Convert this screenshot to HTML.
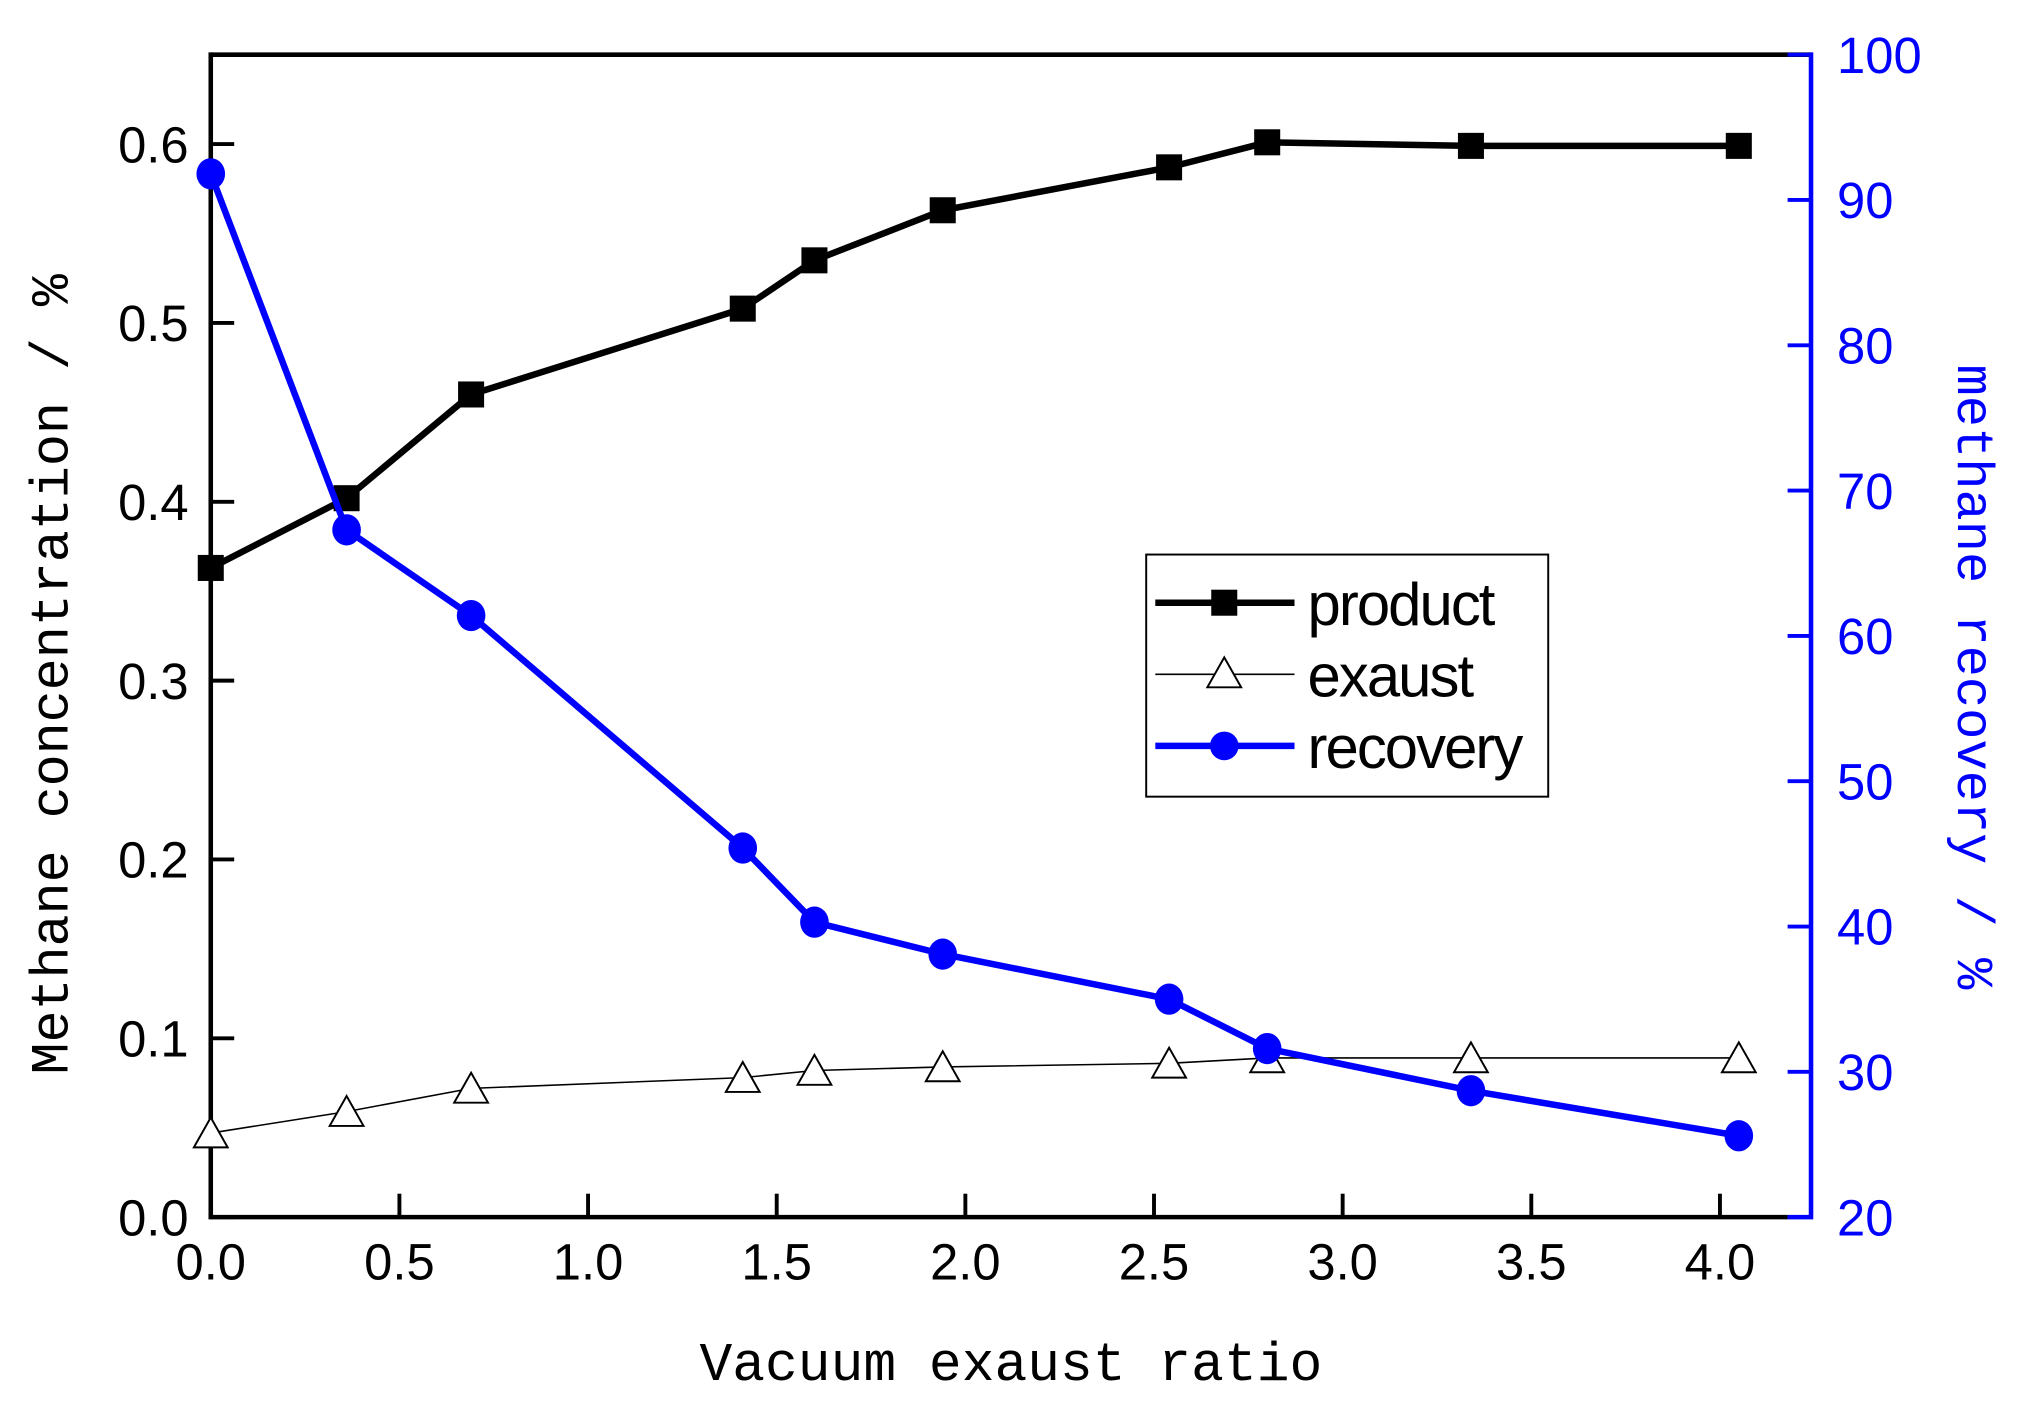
<!DOCTYPE html>
<html><head><meta charset="utf-8"><style>
html,body{margin:0;padding:0;background:#fff;}
svg{display:block;}
</style></head><body>
<svg id="chart" width="2040" height="1415" viewBox="0 0 1568 1087" preserveAspectRatio="none" xmlns="http://www.w3.org/2000/svg">
<g id="axes"></g>
<g id="series"></g>
<text transform="translate(52,518) rotate(-90)" text-anchor="middle" font-family="Liberation Mono, monospace" font-size="41" fill="#000">Methane concentration / %</text>
<text transform="translate(1505,520) rotate(90)" text-anchor="middle" font-family="Liberation Mono, monospace" font-size="40" fill="#0000ff">methane recovery / %</text>
<text x="777" y="1060" text-anchor="middle" font-family="Liberation Mono, monospace" font-size="42" fill="#000">Vacuum exaust ratio</text>
<g>
<rect x="881" y="426" width="309" height="186" fill="#fff" stroke="#000" stroke-width="1.5"/>
<g><line x1="888" y1="463" x2="995" y2="463" stroke="#000" stroke-width="5"/><rect x="931" y="453" width="20" height="20" fill="#000"/><text x="1005" y="480" font-family="Liberation Sans, sans-serif" font-size="46" letter-spacing="-1.5">product</text></g>
<g><line x1="888" y1="518" x2="995" y2="518" stroke="#000" stroke-width="1.2"/><polygon points="941,505 954,528 928,528" fill="#fff" stroke="#000" stroke-width="1.5"/><text x="1005" y="535" font-family="Liberation Sans, sans-serif" font-size="46" letter-spacing="-1.5">exaust</text></g>
<g><line x1="888" y1="573" x2="995" y2="573" stroke="#0000ff" stroke-width="5"/><circle cx="941" cy="573" r="11" fill="#0000ff"/><text x="1005" y="590" font-family="Liberation Sans, sans-serif" font-size="46" letter-spacing="-1.5">recovery</text></g>
</g>
</svg>
<script>
const xValues = [0, 0.36, 0.69, 1.41, 1.6, 1.94, 2.54, 2.8, 3.34, 4.05];
const productValues = [0.363, 0.402, 0.460, 0.508, 0.535, 0.563, 0.587, 0.601, 0.599, 0.599];
const exaustValues = [0.047, 0.059, 0.072, 0.078, 0.082, 0.084, 0.086, 0.089, 0.089, 0.089];
const recoveryValues = [91.8, 67.3, 61.4, 45.4, 40.3, 38.1, 35.0, 31.6, 28.7, 25.6];
const xTicks = ["0.0","0.5","1.0","1.5","2.0","2.5","3.0","3.5","4.0"];
const yTicks = ["0.0","0.1","0.2","0.3","0.4","0.5","0.6"];
const y2Ticks = ["20","30","40","50","60","70","80","90","100"];

const L=162,R=1392,T=42,B=935;
const X0=0,X1=(R-L)/290;
const sx=v=>L+(v-X0)/(X1-X0)*(R-L);
const sy=v=>B-v/0.65*(B-T);
const sy2=v=>B-(v-20)/80*(B-T);
const NS="http://www.w3.org/2000/svg";
function mk(parent,tag,attrs){const e=document.createElementNS(NS,tag);for(const k in attrs)e.setAttribute(k,attrs[k]);parent.appendChild(e);return e;}
const ax=document.getElementById('axes');
let e;
e=mk(ax,'line',{x1:L,y1:T,x2:R,y2:T,stroke:'#000','stroke-width':3.5});


e=mk(ax,'line',{x1:L,y1:T-1.75,x2:L,y2:B+1.75,stroke:'#000','stroke-width':3.5});


e=mk(ax,'line',{x1:L,y1:B,x2:R-18,y2:B,stroke:'#000','stroke-width':3.5});


e=mk(ax,'polyline',{points:`${R-18},${B} ${R},${B} ${R},${T-1.75}`,fill:'none',stroke:'#0000ff','stroke-width':3.5});


xTicks.forEach(t=>{const x=sx(parseFloat(t));
 e=mk(ax,'line',{x1:x,y1:B,x2:x,y2:B-18,stroke:'#000','stroke-width':3});
 
 
 e=mk(ax,'text',{x:x,y:B+48,'text-anchor':'middle','font-family':'Liberation Sans, sans-serif','font-size':39});
 e.textContent=t;
 
 
});
yTicks.forEach(t=>{const y=sy(parseFloat(t));
 e=mk(ax,'line',{x1:L,y1:y,x2:L+18,y2:y,stroke:'#000','stroke-width':3});
 
 
 e=mk(ax,'text',{x:145,y:y+14,'text-anchor':'end','font-family':'Liberation Sans, sans-serif','font-size':39});
 e.textContent=t;
 
 
});
y2Ticks.forEach(t=>{const y=sy2(parseFloat(t));
 e=mk(ax,'line',{x1:R,y1:y,x2:R-18,y2:y,stroke:'#0000ff','stroke-width':3});
 
 
 e=mk(ax,'text',{x:1412,y:y+14,'text-anchor':'start','font-family':'Liberation Sans, sans-serif','font-size':39,fill:'#0000ff'});
 e.textContent=t;
 
 
});
const sg=document.getElementById('series');
e=mk(sg,'polyline',{points:xValues.map((x,i)=>sx(x)+','+sy(exaustValues[i])).join(' '),fill:'none',stroke:'#000','stroke-width':1.2});


xValues.forEach((x,i)=>{const cx=sx(x),cy=sy(exaustValues[i]);
 e=mk(sg,'polygon',{points:`${cx},${cy-12} ${cx+13},${cy+11} ${cx-13},${cy+11}`,fill:'#fff',stroke:'#000','stroke-width':1.5});
 
 
});
e=mk(sg,'polyline',{points:xValues.map((x,i)=>sx(x)+','+sy(productValues[i])).join(' '),fill:'none',stroke:'#000','stroke-width':5});


xValues.forEach((x,i)=>{
 e=mk(sg,'rect',{x:sx(x)-10,y:sy(productValues[i])-10,width:20,height:20,fill:'#000'});
 
 
});
e=mk(sg,'polyline',{points:xValues.map((x,i)=>sx(x)+','+sy2(recoveryValues[i])).join(' '),fill:'none',stroke:'#0000ff','stroke-width':5});


xValues.forEach((x,i)=>{
 e=mk(sg,'ellipse',{cx:sx(x),cy:sy2(recoveryValues[i]),rx:11,ry:12,fill:'#0000ff'});
 
 
});
</script>
</body></html>
